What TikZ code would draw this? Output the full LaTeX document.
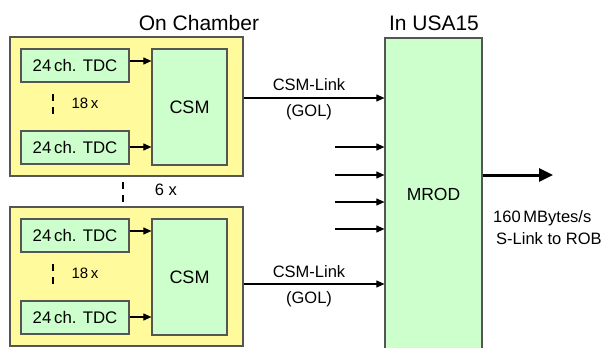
\documentclass[tikz,border=0pt]{standalone}
\usepackage{fontspec}
\setmainfont{Liberation Sans}
\usetikzlibrary{arrows.meta,calc}
\definecolor{chamb}{HTML}{FFFA9C}
\definecolor{grn}{HTML}{CCFFCC}
\definecolor{edge}{HTML}{555555}
\begin{document}
\begin{tikzpicture}[x=1pt,y=-1pt,
  box/.style={draw=edge,line width=1.2pt,inner sep=0pt},
  chamberbox/.style={box,fill=chamb,minimum width=233pt,minimum height=139pt},
  tdcbox/.style={box,fill=grn,minimum width=108pt,minimum height=33pt,font=\fontsize{16.8}{18}\selectfont},
  csmbox/.style={box,fill=grn,minimum width=75pt,minimum height=116pt,font=\fontsize{18}{20}\selectfont},
  arr/.style={line width=1.1pt,-{Triangle[length=8pt,width=7pt]}},
  dots/.style={line width=1.4pt,dash pattern=on 6.5pt off 6.5pt},
  lbl/.style={font=\fontsize{16.5}{18}\selectfont,inner sep=0pt},
  title/.style={font=\fontsize{21}{23}\selectfont,inner sep=0pt}]
\useasboundingbox (0,0) rectangle (611,348);
\begin{scope}
\clip (0,0) rectangle (611,348);
\node[box,fill=grn,minimum width=97pt,minimum height=330pt] (mrod) at (433.5,203) {};
\end{scope}
\node[font=\fontsize{17.5}{19}\selectfont] (mrodtxt) at (433.5,194) {MROD};
\node[title] (oc) at (199,23) {On Chamber};
\node[title] (usa) at (434,23) {In USA15};
% top chamber
\node[chamberbox] (ch1) at (126.5,106.5) {};
\node[tdcbox] (t1) at (75,65.5) {24\,ch. TDC};
\node[tdcbox] (t2) at (75,147.5) {24\,ch. TDC};
\node[csmbox] (c1) at (189.5,107) {CSM};
\draw[arr] (t1.east |- {(0,61)}) -- (c1.west |- {(0,61)});
\draw[arr] (t2.east |- {(0,147)}) -- (c1.west |- {(0,147)});
\coordinate (d1a) at (53,94); \coordinate (d1b) at (53,115);
\draw[dots] (d1a) -- (d1b);
\node[lbl,font=\fontsize{15}{16}\selectfont] (n18a) at (85,103) {18\,x};
% between
\coordinate (d2a) at (123,182); \coordinate (d2b) at (123,202);
\draw[dots] (d2a) -- (d2b);
\node[lbl,font=\fontsize{16.5}{18}\selectfont] (n6) at (166,190) {6 x};
% bottom chamber
\node[chamberbox] (ch2) at (126.5,276.5) {};
\node[tdcbox] (t3) at (75,235.5) {24\,ch. TDC};
\node[tdcbox] (t4) at (75,317.5) {24\,ch. TDC};
\node[csmbox] (c2) at (189.5,277) {CSM};
\draw[arr] (t3.east |- {(0,231)}) -- (c2.west |- {(0,231)});
\draw[arr] (t4.east |- {(0,317)}) -- (c2.west |- {(0,317)});
\coordinate (d3a) at (53,264); \coordinate (d3b) at (53,285);
\draw[dots] (d3a) -- (d3b);
\node[lbl,font=\fontsize{15}{16}\selectfont] (n18b) at (85,273) {18\,x};
% links
\draw[arr] (ch1.east |- {(0,98)}) -- (mrod.west |- {(0,98)});
\node[lbl] (l1) at (309,85) {CSM-Link};
\node[lbl] (g1) at (309,112) {(GOL)};
\draw[arr] (ch2.east |- {(0,284)}) -- (mrod.west |- {(0,284)});
\node[lbl] (l2) at (309,272) {CSM-Link};
\node[lbl] (g2) at (309,299) {(GOL)};
% extra inputs
\foreach \y [count=\i] in {147,175,202,229}{
  \coordinate (in\i) at (335,\y);
  \draw[arr] (in\i) -- (mrod.west |- in\i);
}
% output
\coordinate (out) at (553,175);
\draw[line width=3pt,-{Triangle[length=14pt,width=13pt]}] (mrod.east |- out) -- (out);
\node[lbl,anchor=west] (o1) at (493,218) {160\,MBytes/s};
\node[lbl,anchor=west] (o2) at (496,239) {S-Link to ROB};
\end{tikzpicture}
\end{document}
